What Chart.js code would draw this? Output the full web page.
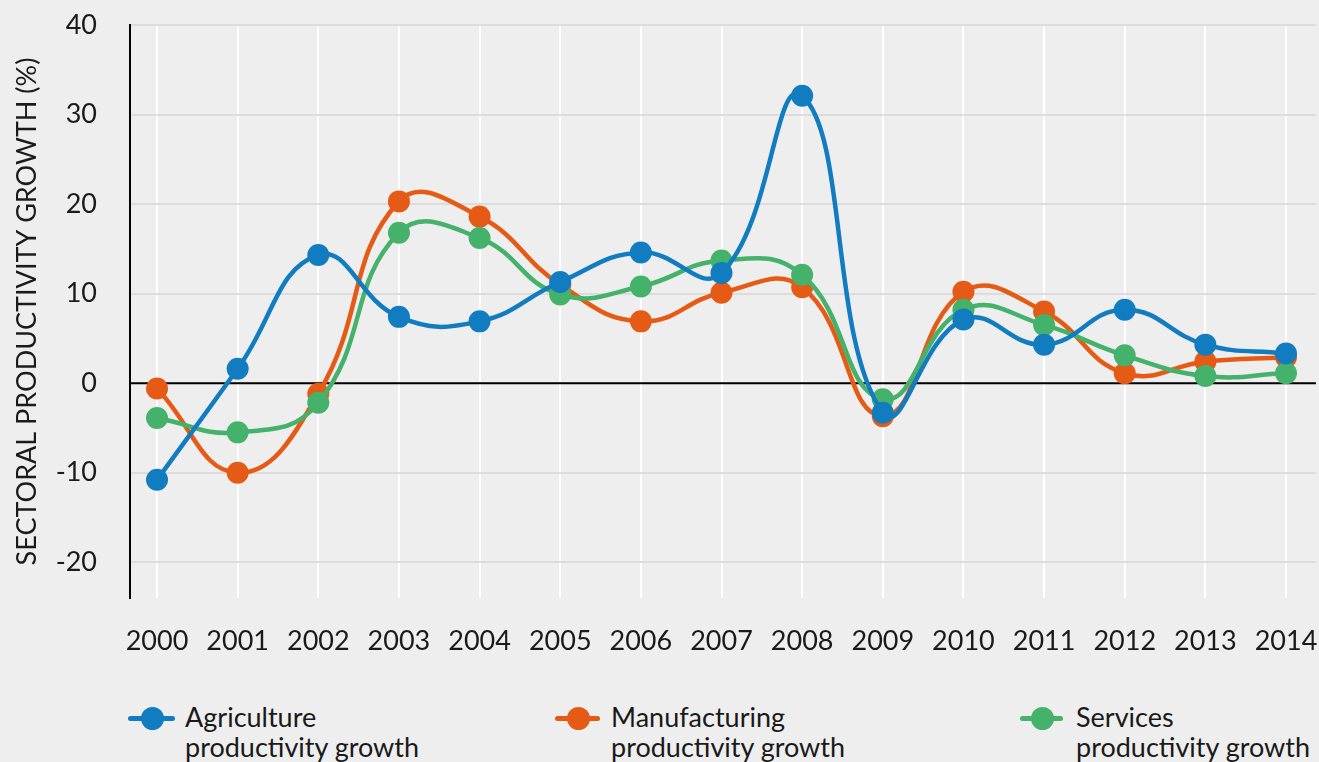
<!DOCTYPE html>
<html><head><meta charset="utf-8">
<script src="https://cdn.jsdelivr.net/npm/chart.js@4/dist/chart.umd.min.js"></script>
<style>
html,body{margin:0;padding:0;background:#eeeeee;width:1319px;height:762px;overflow:hidden;font-family:Lato,"Open Sans",sans-serif;}
#wrap{position:relative;width:1319px;height:762px;background:#eeeeee;overflow:hidden;}
#cwrap{position:absolute;left:0;top:0;width:1327px;height:680px;}
.leg{position:absolute;top:702px;height:70px;}
.leg .mk{position:absolute;top:14px;height:5px;border-radius:3px;}
.leg .dot{position:absolute;top:5px;width:23px;height:23px;border-radius:50%;}
.leg .txt{position:absolute;top:0;white-space:nowrap;font-size:27px;line-height:30px;color:#1a1a1a;}
</style></head>
<body><div id="wrap"><div id="cwrap"><canvas id="c"></canvas></div><div id="legend"></div></div>
<script>
const years = [2000,2001,2002,2003,2004,2005,2006,2007,2008,2009,2010,2011,2012,2013,2014];
const agriculture   = [-10.8, 1.6, 14.3, 7.4, 6.9, 11.3, 14.6, 12.3, 32.1, -3.3, 7.1, 4.3, 8.2, 4.3, 3.3];
const manufacturing = [-0.6, -10.0, -1.2, 20.3, 18.6, 11.0, 6.9, 10.1, 10.7, -3.7, 10.2, 8.0, 1.1, 2.4, 2.9];
const services      = [-3.9, -5.5, -2.2, 16.8, 16.2, 9.9, 10.8, 13.7, 12.1, -1.8, 8.2, 6.5, 3.1, 0.8, 1.1];
const seriesNames = ["Agriculture productivity growth","Manufacturing productivity growth","Services productivity growth"];
const legendLines = [["Agriculture","productivity growth"],["Manufacturing","productivity growth"],["Services","productivity growth"]];
const colors = ["#127cc0","#e55a14","#45b26b"];
const drawOrder = [0,2,1];
const yTicks = [-20,-10,0,10,20,30,40];
const yTitle = "SECTORAL PRODUCTIVITY GROWTH (%)";

const seriesValues = [agriculture, manufacturing, services];
const datasets = seriesValues.map((vals,i)=>({
  label: seriesNames[i],
  data: vals.map((v,j)=>({x:years[j], y:v})),
  borderColor: colors[i],
  backgroundColor: colors[i],
  borderWidth: 4.5,
  pointRadius: 11,
  pointHoverRadius: 11,
  pointBorderWidth: 0,
  tension: 0.45,
  order: drawOrder[i]
}));
const zeroLine = {
  id:'zeroLine',
  beforeDatasetsDraw(chart){
    const {ctx, chartArea, scales} = chart;
    const y = scales.y.getPixelForValue(0);
    ctx.save();
    ctx.strokeStyle = '#000';
    ctx.lineWidth = 2;
    ctx.beginPath();
    ctx.moveTo(chartArea.left, y);
    ctx.lineTo(chartArea.right, y);
    ctx.stroke();
    ctx.restore();
  }
};
new Chart(document.getElementById('c'), {
  type:'line',
  data:{datasets},
  options:{
    responsive:true, maintainAspectRatio:false, animation:false,
    layout:{padding:{top:25,right:0,left:0,bottom:0}},
    plugins:{legend:{display:false}, tooltip:{enabled:false}},
    scales:{
      x:{
        type:'linear', min:1999.665, max:2014.372,
        afterBuildTicks(s){ s.ticks = years.map(v=>({value:v})); },
        afterFit(s){ s.height = 82; s.paddingLeft = 0; s.paddingRight = 0; },
        grid:{color:'#ffffff', lineWidth:2, drawTicks:false},
        border:{display:false},
        ticks:{padding:27, color:'#1a1a1a', font:{family:'Lato', size:27}, callback:v=>String(v), maxRotation:0, autoSkip:false}
      },
      y:{
        type:'linear', min:-24, max:40,
        afterBuildTicks(s){ s.ticks = yTicks.map(v=>({value:v})); },
        afterFit(s){ s.width = 130; s.paddingTop = 0; s.paddingBottom = 0; },
        grid:{color:'#dcdcdc', lineWidth:2, drawTicks:false},
        border:{display:true, color:'#000', width:2},
        ticks:{padding:33, color:'#1a1a1a', font:{family:'Lato', size:27}},
        title:{display:true, text:yTitle, color:'#1a1a1a', font:{family:'Lato', size:27}, padding:{top:11,bottom:0}}
      }
    }
  },
  plugins:[zeroLine]
});
const legendX = [[128,175,152,185],[555,600,578,611],[1020,1063,1042,1076]];
const leg = document.getElementById('legend');
seriesNames.forEach((n,i)=>{
  const [x0,x1,cx,tx] = legendX[i];
  const d = document.createElement('div');
  d.className='leg'; d.style.left='0px'; d.style.width='1319px';
  d.innerHTML = `<div class="mk" style="left:${x0}px;width:${x1-x0}px;background:${colors[i]}"></div>`+
    `<div class="dot" style="left:${cx-11.5}px;background:${colors[i]}"></div>`+
    `<div class="txt" style="left:${tx}px">${legendLines[i].join('<br>')}</div>`;
  leg.appendChild(d);
});
</script></body></html>
